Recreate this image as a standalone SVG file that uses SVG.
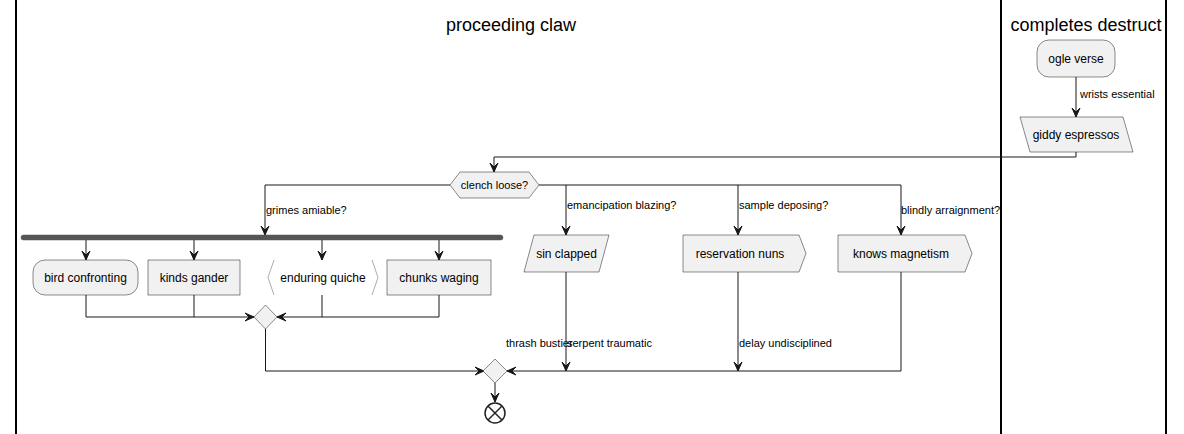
<svg xmlns="http://www.w3.org/2000/svg" width="1184" height="434" viewBox="0 0 1184 434">
<style>
  text { font-family: "Liberation Sans", Arial, sans-serif; fill: #000; }
  .title { font-size: 18px; text-anchor: middle; }
  .nt { font-size: 12px; text-anchor: middle; }
  .lbl { font-size: 11px; }
  .node { fill: #F1F1F1; stroke: #181818; stroke-width: 0.5; }
  .lane { stroke: #000; stroke-width: 2; }
  .edge { fill: none; stroke: #181818; stroke-width: 1; }
  .ah { fill: #181818; stroke: #181818; stroke-width: 1; }
</style>
<rect width="1184" height="434" fill="#FFFFFF"/>
<g id="lanes">
  <line class="lane" x1="16" y1="0" x2="16" y2="434"/>
  <line class="lane" x1="1001" y1="0" x2="1001" y2="434"/>
  <line class="lane" x1="1166" y1="0" x2="1166" y2="434"/>
  <text class="title" x="511" y="31">proceeding claw</text>
  <text class="title" x="1086" y="31">completes destruct</text>
</g>
<g id="connectors">
  <path class="edge" d="M1076,77 L1076,117"/>
  <polygon class="ah" points="1072,108 1076,117 1080,108 1076,112"/>
  <text class="lbl" x="1080" y="98">wrists essential</text>

  <path class="edge" d="M1076,152 L1076,157 L494,157 L494,172"/>
  <polygon class="ah" points="490,163 494,172 498,163 494,167"/>

  <path class="edge" d="M450,185 L265,185 L265,235"/>
  <polygon class="ah" points="261,226 265,235 269,226 265,230"/>
  <text class="lbl" x="266" y="214">grimes amiable?</text>

  <path class="edge" d="M539,185 L901,185 L901,235"/>
  <path class="edge" d="M566,185 L566,235"/>
  <path class="edge" d="M738,185 L738,235"/>
  <polygon class="ah" points="562,226 566,235 570,226 566,230"/>
  <polygon class="ah" points="734,226 738,235 742,226 738,230"/>
  <polygon class="ah" points="897,226 901,235 905,226 901,230"/>
  <text class="lbl" x="567" y="209">emancipation blazing?</text>
  <text class="lbl" x="739" y="209">sample deposing?</text>
  <text class="lbl" x="901" y="214">blindly arraignment?</text>

  <path class="edge" d="M86,240 L86,260"/>
  <path class="edge" d="M194,240 L194,260"/>
  <path class="edge" d="M322,240 L322,260"/>
  <path class="edge" d="M439,240 L439,260"/>
  <polygon class="ah" points="82,251 86,260 90,251 86,255"/>
  <polygon class="ah" points="190,251 194,260 198,251 194,255"/>
  <polygon class="ah" points="318,251 322,260 326,251 322,255"/>
  <polygon class="ah" points="435,251 439,260 443,251 439,255"/>

  <path class="edge" d="M86,295 L86,317 L254,317"/>
  <path class="edge" d="M194,295 L194,317"/>
  <polygon class="ah" points="245,313 254,317 245,321 249,317"/>
  <path class="edge" d="M439,295 L439,317 L277,317"/>
  <path class="edge" d="M322,295 L322,317"/>
  <polygon class="ah" points="286,313 277,317 286,321 282,317"/>

  <path class="edge" d="M265.5,329 L265.5,371 L484,371"/>
  <polygon class="ah" points="475,367 484,371 475,375 479,371"/>
  <text class="lbl" x="506" y="347">thrash bustier</text>

  <path class="edge" d="M566,272 L566,371"/>
  <polygon class="ah" points="562,362 566,371 570,362 566,366"/>
  <text class="lbl" x="567" y="347">serpent traumatic</text>

  <path class="edge" d="M738,272 L738,371"/>
  <polygon class="ah" points="734,362 738,371 742,362 738,366"/>
  <text class="lbl" x="739" y="347">delay undisciplined</text>

  <path class="edge" d="M901,272 L901,371 L507,371"/>
  <polygon class="ah" points="516,367 507,371 516,375 512,371"/>

  <path class="edge" d="M495,383 L495,402"/>
  <polygon class="ah" points="491,393 495,402 499,393 495,397"/>
</g>
<g id="ogle-verse">
  <rect class="node" x="1037" y="40" width="78" height="37" rx="12" ry="12"/>
  <text class="nt" x="1076" y="63">ogle verse</text>
</g>
<g id="giddy-espressos">
  <polygon class="node" points="1020,117 1123,117 1133,152 1030,152"/>
  <text class="nt" x="1076" y="139">giddy espressos</text>
</g>
<g id="clench-loose">
  <polygon class="node" points="450,185 460,172 529,172 539,185 529,198 460,198"/>
  <text class="lbl" x="494.5" y="189" text-anchor="middle">clench loose?</text>
</g>
<g id="fork">
  <rect x="21" y="235" width="482" height="5" rx="2.5" ry="2.5" fill="#555555" stroke="#555555" stroke-width="0.5"/>
</g>
<g id="bird-confronting">
  <rect class="node" x="33" y="260" width="105" height="35" rx="12" ry="12"/>
  <text class="nt" x="85.5" y="282">bird confronting</text>
</g>
<g id="kinds-gander">
  <rect class="node" x="148" y="260" width="92" height="35"/>
  <text class="nt" x="194" y="282">kinds gander</text>
</g>
<g id="enduring-quiche">
  <polyline points="274,260 268,277.5 274,295" fill="none" stroke="#888888" stroke-width="0.7"/>
  <polyline points="372,260 378,277.5 372,295" fill="none" stroke="#888888" stroke-width="0.7"/>
  <text class="nt" x="323" y="282">enduring quiche</text>
</g>
<g id="chunks-waging">
  <rect class="node" x="387" y="260" width="104" height="35"/>
  <text class="nt" x="439" y="282">chunks waging</text>
</g>
<g id="merge1">
  <polygon class="node" points="265.5,305 277,317 265.5,329 254,317"/>
</g>
<g id="sin-clapped">
  <polygon class="node" points="534,235 609,235 599,272 524,272"/>
  <text class="nt" x="566.5" y="258">sin clapped</text>
</g>
<g id="reservation-nuns">
  <polygon class="node" points="683,235 799,235 806,253.5 799,272 683,272"/>
  <text class="nt" x="740" y="258">reservation nuns</text>
</g>
<g id="knows-magnetism">
  <polygon class="node" points="838,235 965,235 972,253.5 965,272 838,272"/>
  <text class="nt" x="901" y="258">knows magnetism</text>
</g>
<g id="merge2">
  <polygon class="node" points="495,359 507,371 495,383 483,371"/>
</g>
<g id="end">
  <circle cx="495" cy="413" r="10" fill="#FFFFFF" stroke="#222222" stroke-width="1.5"/>
  <line x1="488" y1="406" x2="502" y2="420" stroke="#222222" stroke-width="1.5"/>
  <line x1="502" y1="406" x2="488" y2="420" stroke="#222222" stroke-width="1.5"/>
</g>
</svg>
